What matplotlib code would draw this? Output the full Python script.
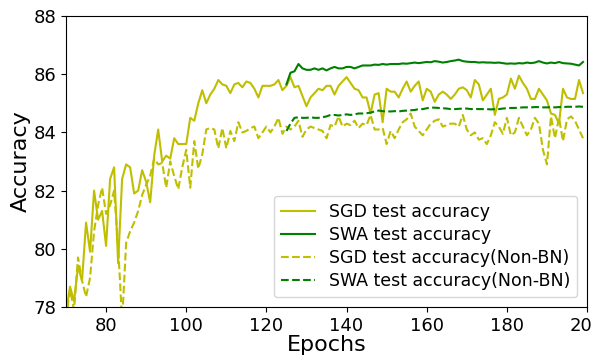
import numpy as np
import matplotlib
matplotlib.use('Agg')
from matplotlib import pyplot as plt

# epochs for the SGD runs
epochs = np.arange(70, 200)

# SGD test accuracy (with BN)
sgd_acc = [77.8, 78.7, 78.2, 79.4, 78.9, 80.9, 79.9, 82.0, 81.0, 81.3,
           80.1, 82.4, 82.8, 79.5, 82.4, 82.9, 82.8, 81.9, 82.0, 82.7,
           82.3, 81.6, 83.2, 84.1, 83.0, 83.2, 83.1, 83.8, 83.6, 83.6,
           83.6, 84.5, 84.4, 85.0, 85.45, 85.0, 85.3, 85.5, 85.8, 85.65,
           85.6, 85.35, 85.65, 85.7, 85.55, 85.75, 85.7, 85.5, 85.2, 85.6,
           85.6, 85.6, 85.65, 85.8, 85.45, 85.6, 85.9, 85.55, 85.6, 85.25,
           84.9, 85.2, 85.35, 85.5, 85.45, 85.6, 85.6, 85.3, 85.6, 85.75,
           85.9, 85.7, 85.5, 85.45, 85.2, 85.2, 84.65, 85.3, 85.35, 84.35,
           85.5, 85.4, 85.4, 85.2, 85.5, 85.75, 85.4, 85.6, 85.75, 85.1,
           85.5, 85.4, 85.05, 85.3, 85.4, 85.3, 85.15, 85.3, 85.5, 85.55,
           85.45, 85.2, 85.8, 85.65, 85.1, 85.3, 85.5, 84.6, 85.15, 85.2,
           85.3, 85.85, 85.5, 85.95, 85.7, 85.5, 85.15, 85.15, 85.5, 85.3,
           85.1, 84.65, 84.6, 84.3, 85.5, 85.2, 85.15, 85.15, 85.8, 85.35]

# SGD test accuracy (Non-BN)
sgd_acc_nbn = [77.6, 78.6, 77.9, 79.7, 78.9, 78.35, 79.0, 80.6, 81.5, 82.1,
               81.2, 81.5, 82.0, 80.1, 77.5, 80.2, 80.6, 80.9, 81.3, 81.85,
               82.2, 82.5, 83.1, 82.9, 82.95, 82.1, 83.0, 82.5, 82.05, 82.8,
               83.4, 82.1, 83.7, 82.75, 83.25, 84.1, 84.15, 84.1, 83.45, 84.15,
               83.45, 84.05, 83.7, 84.35, 84.0, 84.05, 84.15, 84.2, 83.8, 84.0,
               84.2, 84.0, 84.2, 84.5, 83.95, 84.2, 84.1, 84.2, 84.4, 83.85,
               84.1, 84.2, 84.15, 84.1, 84.05, 83.8, 84.25, 84.2, 84.55, 84.2,
               84.3, 84.25, 84.4, 84.15, 84.3, 84.25, 84.6, 84.1, 84.1, 84.15,
               83.6, 84.05, 83.8, 84.1, 84.35, 84.45, 84.65, 84.2, 84.05, 83.9,
               84.1, 84.3, 84.4, 84.45, 84.2, 84.25, 84.3, 84.3, 84.2, 84.6,
               84.1, 83.9, 84.0, 83.75, 83.8, 83.6, 83.9, 84.35, 84.2, 83.95,
               84.5, 83.9, 84.0, 84.5, 84.2, 83.9, 84.1, 84.5, 84.3, 83.4,
               82.9, 84.55, 83.8, 84.5, 83.7, 84.45, 84.55, 84.4, 84.1, 83.8]

# SWA starts at epoch 125
swa_epochs = np.arange(125, 200)

swa_acc = [85.65, 86.05, 86.1, 86.35, 86.2, 86.15, 86.15, 86.2, 86.15, 86.2,
           86.13, 86.2, 86.25, 86.2, 86.2, 86.25, 86.25, 86.2, 86.25, 86.3,
           86.3, 86.3, 86.33, 86.32, 86.35, 86.33, 86.35, 86.35, 86.35, 86.37,
           86.36, 86.38, 86.4, 86.38, 86.4, 86.42, 86.41, 86.45, 86.43, 86.4,
           86.42, 86.45, 86.47, 86.5, 86.45, 86.43, 86.42, 86.42, 86.4, 86.41,
           86.4, 86.4, 86.39, 86.4, 86.38, 86.36, 86.37, 86.36, 86.38, 86.37,
           86.4, 86.38, 86.4, 86.45, 86.4, 86.37, 86.4, 86.38, 86.42, 86.38,
           86.37, 86.36, 86.33, 86.3, 86.42]

swa_acc_nbn = [84.05, 84.3, 84.5, 84.52, 84.5, 84.5, 84.52, 84.5, 84.5, 84.52,
               84.55, 84.6, 84.6, 84.58, 84.6, 84.62, 84.6, 84.62, 84.65, 84.65,
               84.66, 84.68, 84.72, 84.75, 84.73, 84.72, 84.72, 84.73, 84.72, 84.74,
               84.75, 84.76, 84.77, 84.8, 84.8, 84.83, 84.85, 84.85, 84.84, 84.83,
               84.82, 84.8, 84.8, 84.81, 84.82, 84.82, 84.8, 84.81, 84.8, 84.8,
               84.8, 84.79, 84.8, 84.8, 84.82, 84.83, 84.84, 84.84, 84.85, 84.86,
               84.86, 84.86, 84.87, 84.87, 84.86, 84.86, 84.87, 84.86, 84.87, 84.87,
               84.88, 84.88, 84.88, 84.89, 84.88]

fig = plt.figure(figsize=(5.92, 3.58), dpi=100)
ax = fig.add_axes([0.1115, 0.1425, 0.8801, 0.8128])

ax.plot(epochs, sgd_acc, color='y', lw=1.5, label='SGD test accuracy')
ax.plot(swa_epochs, swa_acc, color='g', lw=1.5, label='SWA test accuracy')
ax.plot(epochs, sgd_acc_nbn, color='y', lw=1.5, ls='--', label='SGD test accuracy(Non-BN)')
ax.plot(swa_epochs, swa_acc_nbn, color='g', lw=1.5, ls='--', label='SWA test accuracy(Non-BN)')

ax.set_xlim(70, 200)
ax.set_ylim(78, 88)
ax.set_xticks(np.arange(80, 201, 20))
ax.set_yticks(np.arange(78, 89, 2))
ax.tick_params(labelsize=13)
ax.set_xlabel('Epochs', fontsize=16, labelpad=0)
ax.set_ylabel('Accuracy', fontsize=16, labelpad=2)
ax.legend(loc='lower right', fontsize=12.5, borderaxespad=0.55,
          labelspacing=0.3)

plt.savefig('out.png', dpi=100)
